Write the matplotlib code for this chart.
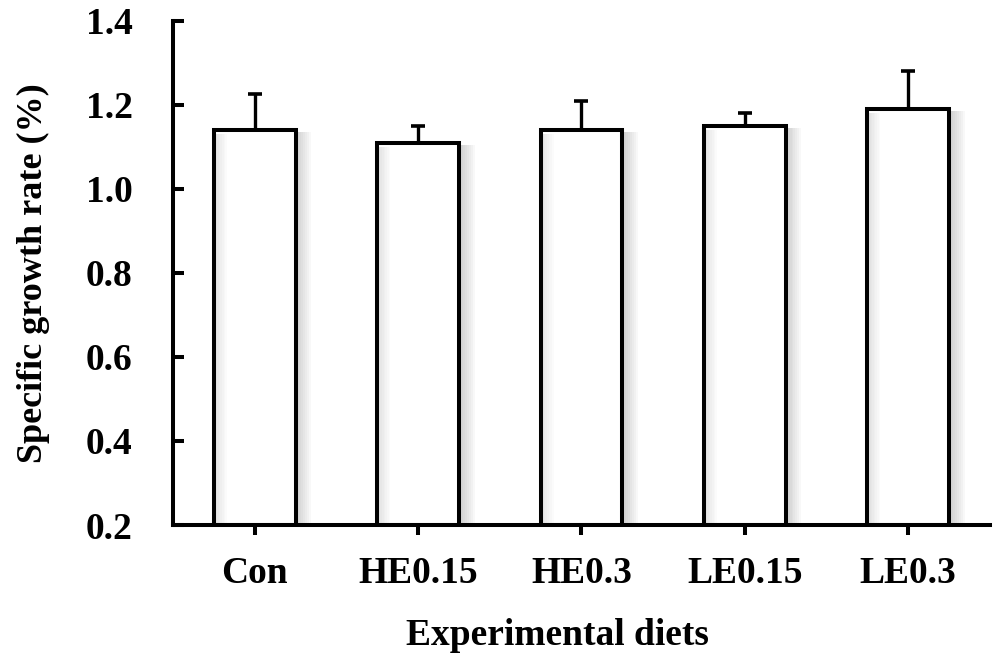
import matplotlib
matplotlib.use("Agg")
import matplotlib.pyplot as plt
from matplotlib.patches import Rectangle

# specific growth rate by diet
diets = ["Con", "HE0.15", "HE0.3", "LE0.15", "LE0.3"]
sgr = [1.14, 1.11, 1.14, 1.15, 1.19]
sgr_err = [0.085, 0.04, 0.07, 0.03, 0.09]

plt.rcParams['font.family'] = ['Liberation Serif', 'DejaVu Serif']
plt.rcParams['font.weight'] = 'bold'

fig = plt.figure(figsize=(10.08, 6.53), dpi=100)
ax = fig.add_axes([0.1716, 0.196, 0.8104, 0.772])

x = list(range(len(diets)))
w = 0.5

# soft drop shadow on each bar
for xi, v in zip(x, sgr):
    for k in range(8):
        ax.add_patch(Rectangle((xi + w / 2, 0.2), 0.012 * (k + 1), v - 0.2 - 0.005,
                               facecolor='gray', edgecolor='none', alpha=0.05, zorder=1))
        ax.add_patch(Rectangle((xi - w / 2, 0.2), 0.01 * (k + 1), v - 0.2 - 0.01,
                               facecolor='gray', edgecolor='none', alpha=0.03, zorder=2.5))

ax.bar(x, [v - 0.2 for v in sgr], bottom=0.2, width=w, color='none',
       edgecolor='black', linewidth=2.9, zorder=3)
ax.bar(x, [v - 0.2 for v in sgr], bottom=0.2, width=w, color='white',
       edgecolor='none', zorder=2)
ax.errorbar(x, sgr, yerr=[[0] * len(sgr), sgr_err], fmt='none', ecolor='black',
            elinewidth=2.4, capsize=5, capthick=2.6, zorder=4)

ax.set_xlim(-0.5, 4.5)
ax.set_ylim(0.2, 1.4)
ax.set_yticks([0.2, 0.4, 0.6, 0.8, 1.0, 1.2, 1.4])
ax.set_yticklabels(["%.1f" % t for t in ax.get_yticks()])
ax.set_xticks(x)
ax.set_xticklabels(diets)

for s in ['top', 'right']:
    ax.spines[s].set_visible(False)
for s in ['left', 'bottom']:
    ax.spines[s].set_linewidth(2.9)

ax.tick_params(axis='y', direction='in', length=8, width=2.9, labelsize=27, pad=29)
ax.tick_params(axis='x', direction='inout', length=14, width=2.9, labelsize=27, pad=15)
for lab in ax.get_xticklabels() + ax.get_yticklabels():
    lab.set_fontweight('bold')

ax.set_xlabel("Experimental diets", fontsize=27, fontweight='bold', labelpad=20, x=0.471)
ax.set_ylabel("Specific growth rate (%)", fontsize=26, fontweight='bold', labelpad=26)

fig.savefig("out.png", dpi=100)
